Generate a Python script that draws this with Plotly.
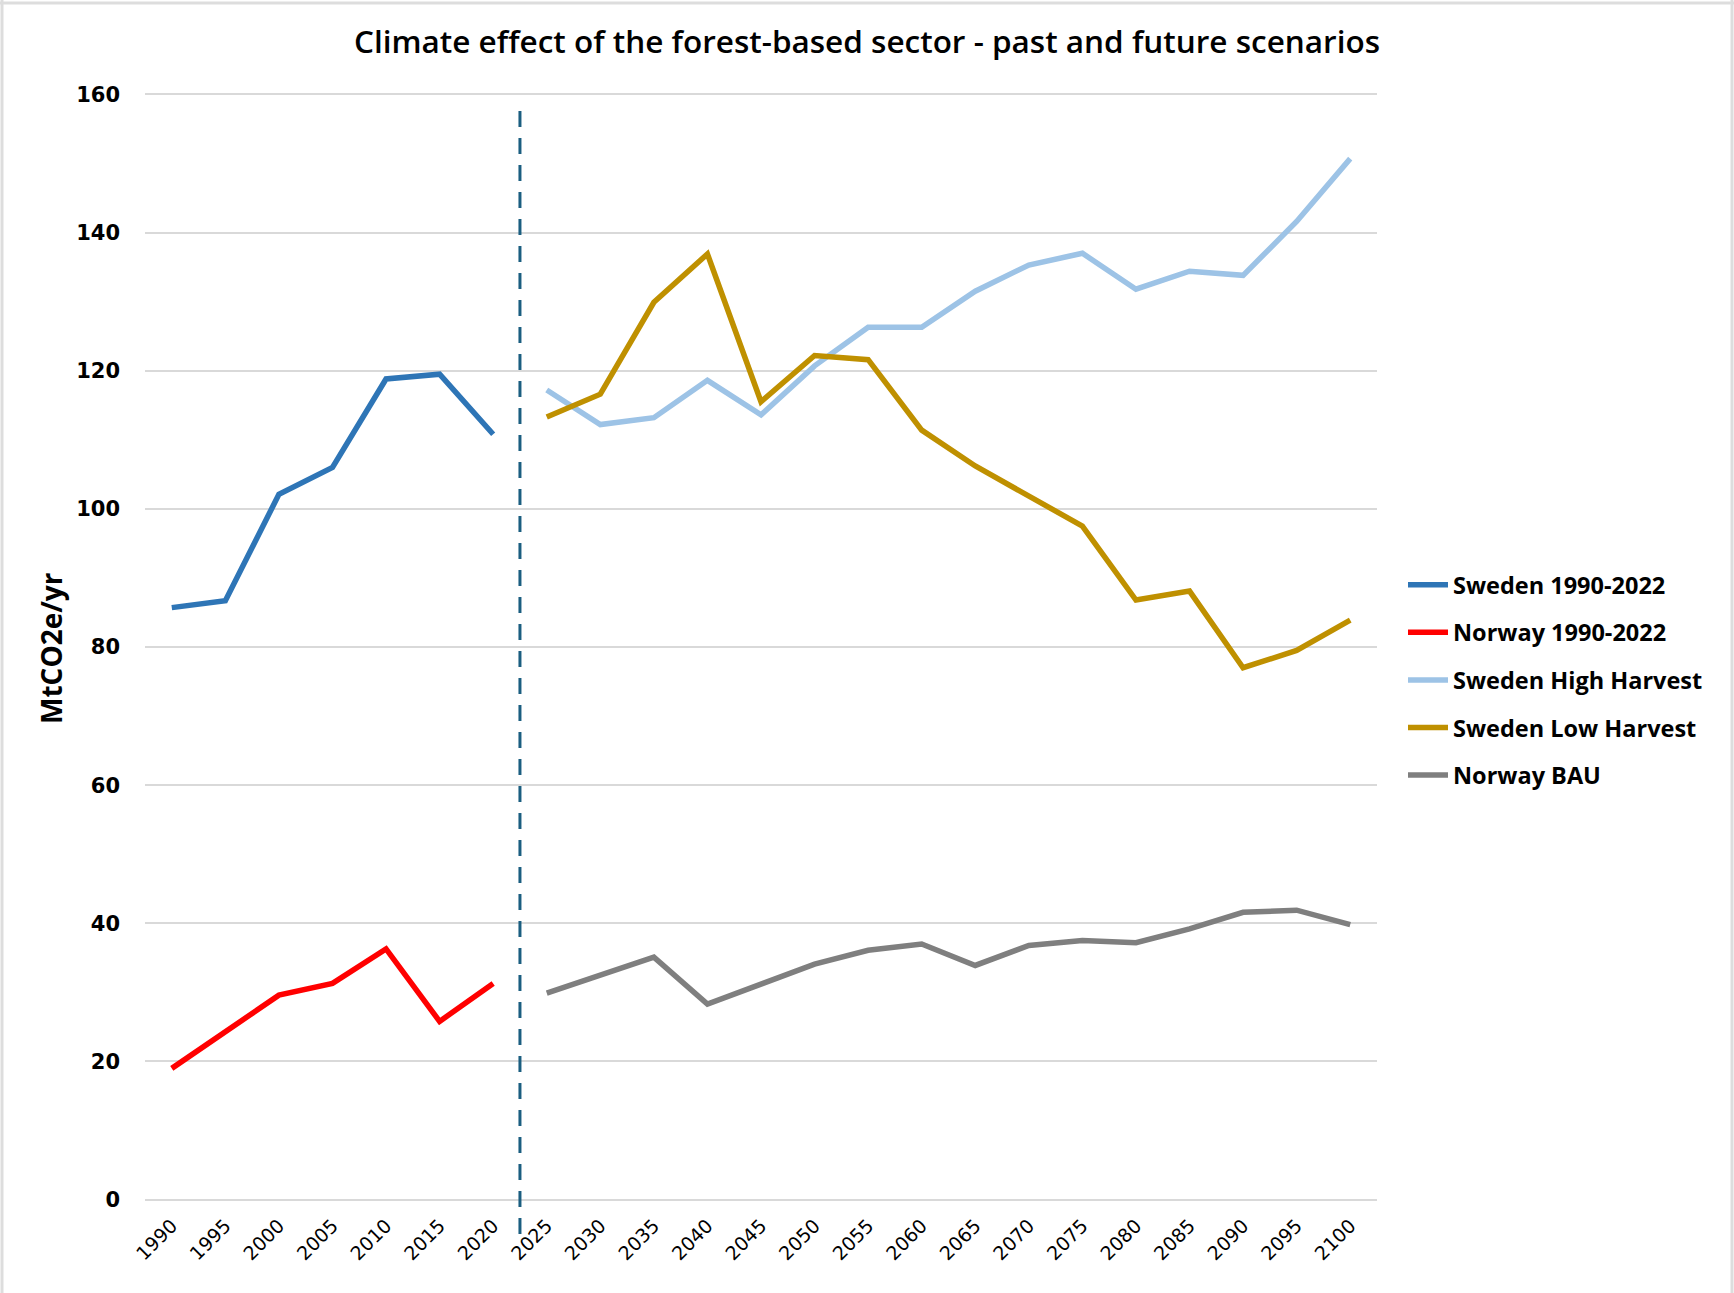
import plotly.graph_objects as go

# ---------------- data ----------------
years = ["1990", "1995", "2000", "2005", "2010", "2015", "2020", "2025", "2030",
         "2035", "2040", "2045", "2050", "2055", "2060", "2065", "2070", "2075",
         "2080", "2085", "2090", "2095", "2100"]
hist_years = years[:7]
future_years = years[7:]

sweden_hist = [85.7, 86.7, 102.1, 106.0, 118.8, 119.5, 110.8]
norway_hist = [19.0, 24.3, 29.6, 31.3, 36.3, 25.8, 31.3]
sweden_high = [117.2, 112.2, 113.2, 118.6, 113.6, 120.7, 126.3, 126.3,
               131.5, 135.3, 137.0, 131.8, 134.4, 133.8, 141.6, 150.7]
sweden_low = [113.3, 116.6, 129.9, 136.9, 115.5, 122.2, 121.6, 111.4,
              106.2, 101.8, 97.5, 86.8, 88.1, 77.0, 79.5, 83.9]
norway_bau = [29.9, 32.5, 35.1, 28.3, 31.2, 34.1, 36.1, 37.0,
              33.9, 36.8, 37.5, 37.2, 39.2, 41.6, 41.9, 39.8]

y_ticks = [0, 20, 40, 60, 80, 100, 120, 140, 160]

series = [
    ("Sweden 1990-2022", hist_years, sweden_hist, "#2E75B6"),
    ("Norway 1990-2022", hist_years, norway_hist, "#FF0000"),
    ("Sweden High Harvest", future_years, sweden_high, "#9DC3E6"),
    ("Sweden Low Harvest", future_years, sweden_low, "#BF9000"),
    ("Norway BAU", future_years, norway_bau, "#7F7F7F"),
]

W, H = 1734, 1293
L, R, T, B = 145, 357, 93, 92
pw, ph = W - L - R, H - T - B

fig = go.Figure()
for i, (name, xs, ys, col) in enumerate(series):
    fig.add_trace(go.Scatter(
        x=xs, y=ys, name=name, mode="lines",
        line=dict(color=col, width=5.5),
        legendgroup=f"g{i}",
    ))


def px_x(v):
    return (v - L) / pw


def px_y(v):
    return (H - B - v) / ph


# divider between history and scenarios (category boundary 6.5), drawn top->bottom
fig.add_shape(type="line", xref="x", yref="paper",
              x0=6.5, x1=6.5, y0=px_y(111), y1=px_y(1244),
              line=dict(color="#1B5E80", width=3, dash="16px,11px"), layer="above")

# faint spreadsheet cell borders around the picture
border = dict(color="#DDDDDD", width=3)
fig.add_shape(type="line", xref="paper", yref="paper",
              x0=px_x(0), x1=px_x(W), y0=px_y(3), y1=px_y(3), line=border)
fig.add_shape(type="line", xref="paper", yref="paper",
              x0=px_x(2), x1=px_x(2), y0=px_y(0), y1=px_y(H), line=border)
fig.add_shape(type="line", xref="paper", yref="paper",
              x0=px_x(W - 2), x1=px_x(W - 2), y0=px_y(0), y1=px_y(H), line=border)

fig.update_layout(
    width=W, height=H,
    margin=dict(l=L, r=R, t=T, b=B),
    paper_bgcolor="white", plot_bgcolor="white",
    title=dict(text="Climate effect of the forest-based sector - past and future scenarios",
               x=0.5, xref="container", xanchor="center",
               y=1 - 42 / H, yref="container", yanchor="middle",
               font=dict(family="Open Sans", size=31.5, color="#000000", weight=600)),
    xaxis=dict(type="category", categoryorder="array", categoryarray=years,
               range=[-0.5, 22.5], showgrid=False, zeroline=False, showline=False,
               ticks="", tickangle=-45, ticklabelstandoff=9,
               tickfont=dict(family="DejaVu Sans", size=19, color="#000000")),
    yaxis=dict(range=[-0.2, 160.2], tickvals=y_ticks, showgrid=True,
               gridcolor="#D9D9D9", gridwidth=2, zeroline=False, showline=False,
               ticks="", ticklabelstandoff=24,
               tickfont=dict(family="DejaVu Sans", size=21, color="#000000", weight="bold")),
    showlegend=True,
    legend=dict(x=(1403 - L) / pw, y=px_y(563), xanchor="left", yanchor="top",
                font=dict(family="Open Sans", size=23.5, color="#000000", weight=700),
                tracegroupgap=14, bgcolor="rgba(0,0,0,0)", itemwidth=40),
)

fig.add_annotation(text="MtCO2e/yr", xref="paper", yref="paper",
                   x=px_x(51), y=px_y(648), showarrow=False, textangle=-90,
                   font=dict(family="Open Sans", size=28, color="#000000", weight=700),
                   xanchor="center", yanchor="middle")

fig.write_html("out.html", config={"displayModeBar": False},
               post_script="document.body.style.margin='0px';")
